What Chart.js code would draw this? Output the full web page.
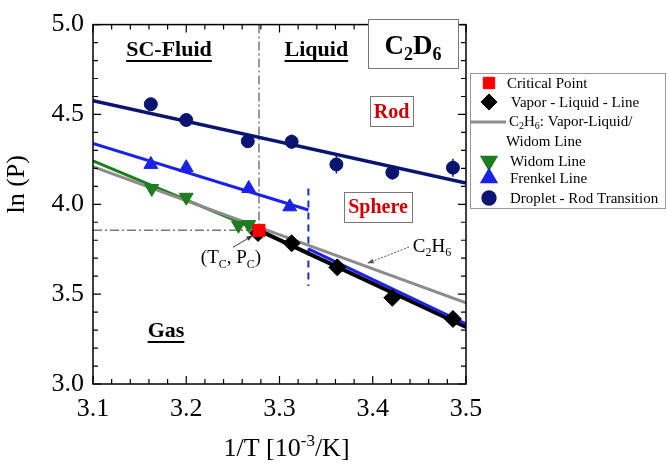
<!DOCTYPE html>
<html>
<head>
<meta charset="utf-8">
<script src="https://cdn.jsdelivr.net/npm/chart.js@4.4.0/dist/chart.umd.min.js"></script>
<style>body{margin:0;background:#fff}</style>
</head>
<body>
<canvas id="grafico" width="667" height="465"></canvas>
<script>
// pontos
const criticalX = [3.278];
const criticalY = [3.855];
const vaporX = [3.277, 3.313, 3.362, 3.421, 3.486];
const vaporY = [3.840, 3.783, 3.649, 3.480, 3.362];
const widomX = [3.163, 3.200, 3.256, 3.267];
const widomY = [4.088, 4.039, 3.883, 3.887];
const frenkelX = [3.162, 3.200, 3.267, 3.311];
const frenkelY = [4.222, 4.204, 4.088, 3.986];
const dropletX = [3.162, 3.200, 3.266, 3.313, 3.361, 3.421, 3.486];
const dropletY = [4.557, 4.469, 4.351, 4.348, 4.222, 4.177, 4.204];
const dropletErr = [0.02, 0.02, 0.03, 0.04, 0.05, 0.04, 0.05];

// retas ajustadas (extremos)
const dropletFitX = [3.1, 3.5];
const dropletFitY = [4.577, 4.118];
const frenkelFitX = [3.1, 3.331];
const frenkelFitY = [4.339, 3.968];
const frenkelLowX = [3.331, 3.5];
const frenkelLowY = [3.752, 3.335];
const widomFitX = [3.1, 3.278];
const widomFitY = [4.242, 3.855];
const vaporFitX = [3.278, 3.5];
const vaporFitY = [3.855, 3.317];
const c2h6X = [3.1, 3.5];
const c2h6Y = [4.210, 3.452];
const sphereBoundX = [3.331, 3.331];
const sphereBoundY = [4.088, 3.545];
const critVertX = [3.278, 3.278];
const critVertY = [5.0, 3.855];
const critHorzX = [3.1, 3.278];
const critHorzY = [3.855, 3.855];

const xTicks = [3.1, 3.2, 3.3, 3.4, 3.5];
const yTicks = [3.0, 3.5, 4.0, 4.5, 5.0];

const SERIF = '"Liberation Serif", "Times New Roman", serif';

function pts(xs, ys) {
    return xs.map((x, i) => ({ x: x, y: ys[i] }));
}

function linha(xs, ys, cor, larg, dash) {
    return {
        data: pts(xs, ys),
        showLine: true,
        borderColor: cor,
        borderWidth: larg,
        borderDash: dash || [],
        pointRadius: 0,
        fill: false
    };
}

function marcador(xs, ys, cor, estilo, raio, rot) {
    return {
        data: pts(xs, ys),
        showLine: false,
        pointStyle: estilo,
        pointRadius: raio,
        pointRotation: rot || 0,
        backgroundColor: cor,
        borderColor: cor,
        borderWidth: 1
    };
}

// texto com sub/sobrescrito: partes [texto, tipo]
function textoRico(ctx, partes, x, y, tam, peso, cor, alinhar) {
    const medidas = partes.map(p => {
        const t = p[1] ? Math.round(tam * 0.65) : tam;
        ctx.font = peso + ' ' + t + 'px ' + SERIF;
        return ctx.measureText(p[0]).width;
    });
    const total = medidas.reduce((a, b) => a + b, 0);
    let cx = x;
    if (alinhar === 'center') cx = x - total / 2;
    ctx.fillStyle = cor;
    ctx.textBaseline = 'alphabetic';
    ctx.textAlign = 'left';
    partes.forEach((p, i) => {
        const t = p[1] ? Math.round(tam * 0.65) : tam;
        ctx.font = peso + ' ' + t + 'px ' + SERIF;
        let dy = 0;
        if (p[1] === 'sub') dy = tam * 0.22;
        if (p[1] === 'sup') dy = -tam * 0.38;
        ctx.fillText(p[0], cx, y + dy);
        cx += medidas[i];
    });
    return total;
}

function seta(ctx, x1, y1, x2, y2, cor, dash) {
    const ang = Math.atan2(y2 - y1, x2 - x1);
    ctx.strokeStyle = cor;
    ctx.fillStyle = cor;
    ctx.lineWidth = 1;
    ctx.setLineDash(dash || []);
    ctx.beginPath();
    ctx.moveTo(x1, y1);
    ctx.lineTo(x2, y2);
    ctx.stroke();
    ctx.setLineDash([]);
    ctx.beginPath();
    ctx.moveTo(x2, y2);
    ctx.lineTo(x2 - 7 * Math.cos(ang - 0.35), y2 - 7 * Math.sin(ang - 0.35));
    ctx.lineTo(x2 - 7 * Math.cos(ang + 0.35), y2 - 7 * Math.sin(ang + 0.35));
    ctx.closePath();
    ctx.fill();
}

// barras de erro dos pontos Droplet - Rod
const barrasErro = {
    id: 'barrasErro',
    beforeDatasetsDraw(chart) {
        const ctx = chart.ctx;
        const sx = chart.scales.x, sy = chart.scales.y;
        ctx.save();
        ctx.strokeStyle = '#0b1470';
        ctx.lineWidth = 1.5;
        ctx.beginPath();
        dropletX.forEach((x, i) => {
            const px = sx.getPixelForValue(x);
            ctx.moveTo(px, sy.getPixelForValue(dropletY[i] + dropletErr[i]));
            ctx.lineTo(px, sy.getPixelForValue(dropletY[i] - dropletErr[i]));
        });
        ctx.stroke();
        ctx.restore();
    }
};

const moldura = {
    id: 'moldura',
    afterDraw(chart) {
        const ctx = chart.ctx;
        const a = chart.chartArea;
        const sx = chart.scales.x, sy = chart.scales.y;
        ctx.save();
        ctx.strokeStyle = '#000';
        ctx.lineWidth = 1.5;
        ctx.strokeRect(a.left, a.top, a.right - a.left, a.bottom - a.top);
        ctx.lineWidth = 1.2;
        ctx.beginPath();
        for (let i = 0; i <= 20; i++) {
            const v = 3.1 + i * 0.02;
            const px = sx.getPixelForValue(v);
            const len = i % 5 === 0 ? 8 : 5;
            ctx.moveTo(px, a.bottom); ctx.lineTo(px, a.bottom - len);
            ctx.moveTo(px, a.top); ctx.lineTo(px, a.top + len);
        }
        for (let i = 0; i <= 20; i++) {
            const v = 3.0 + i * 0.1;
            const py = sy.getPixelForValue(v);
            const len = i % 5 === 0 ? 8 : 5;
            ctx.moveTo(a.left, py); ctx.lineTo(a.left + len, py);
            ctx.moveTo(a.right, py); ctx.lineTo(a.right - len, py);
        }
        ctx.stroke();

        // titulos dos eixos
        ctx.save();
        ctx.translate(24, (a.top + a.bottom) / 2 - 20);
        ctx.rotate(-Math.PI / 2);
        textoRico(ctx, [['ln (P)']], 0, 0, 26, 'normal', '#000', 'center');
        ctx.restore();
        textoRico(ctx, [['1/T [10'], ['-3', 'sup'], ['/K]']], (a.left + a.right) / 2 + 7, 456, 26, 'normal', '#000', 'center');

        // rotulos das regioes
        const rot = (txt, x, y) => {
            const w = textoRico(ctx, [[txt]], x, y, 22, 'bold', '#000', 'center');
            ctx.fillStyle = '#000';
            ctx.fillRect(x - w / 2, y + 4, w, 2);
        };
        rot('SC-Fluid', sx.getPixelForValue(3.1 + 0.0815), 56);
        rot('Liquid', sx.getPixelForValue(3.1 + 0.2395), 56);
        rot('Gas', sx.getPixelForValue(3.1 + 0.0783), 337);

        const caixa = (x0, y0, x1, y1) => {
            ctx.fillStyle = '#fff';
            ctx.fillRect(x0, y0, x1 - x0, y1 - y0);
            ctx.strokeStyle = '#777';
            ctx.lineWidth = 1;
            ctx.strokeRect(x0 + 0.5, y0 + 0.5, x1 - x0, y1 - y0);
        };
        caixa(368, 19, 458, 68);
        textoRico(ctx, [['C'], ['2', 'sub'], ['D'], ['6', 'sub']], 413, 54, 27, 'bold', '#000', 'center');
        caixa(370, 96, 413, 126);
        textoRico(ctx, [['Rod']], 391.5, 118, 20, 'bold', '#d40000', 'center');
        caixa(344, 192, 412, 222);
        textoRico(ctx, [['Sphere']], 378, 213, 20, 'bold', '#d40000', 'center');

        // ponto critico
        const cx = sx.getPixelForValue(criticalX[0]), cy = sy.getPixelForValue(criticalY[0]);
        textoRico(ctx, [['(T'], ['C', 'sub'], [', P'], ['C', 'sub'], [')']], cx - 28, cy + 33, 19, 'normal', '#000', 'center');
        seta(ctx, cx - 26, cy + 17, cx - 6, cy + 5, '#333');
        // C2H6
        const gx = sx.getPixelForValue(3.393), gy = sy.getPixelForValue(c2h6Y[0] + (3.393 - c2h6X[0]) * (c2h6Y[1] - c2h6Y[0]) / (c2h6X[1] - c2h6X[0]));
        textoRico(ctx, [['C'], ['2', 'sub'], ['H'], ['6', 'sub']], 432, 252, 19, 'normal', '#000', 'center');
        seta(ctx, 409, 247, gx + 1, gy - 3, '#555', [2, 1.5]);

        // legenda
        ctx.fillStyle = '#fff';
        ctx.fillRect(470, 73, 195, 135);
        ctx.strokeStyle = '#999';
        ctx.lineWidth = 1;
        ctx.strokeRect(470.5, 73.5, 195, 135);
        const ds = chart.data.datasets;
        const simbolo = (d, x, y) => {
            ctx.fillStyle = d.backgroundColor;
            ctx.strokeStyle = d.borderColor;
            Chart.helpers.drawPoint(ctx, {
                pointStyle: d.pointStyle, radius: d.pointRadius * 0.95,
                rotation: d.pointRotation, borderWidth: 1
            }, x, y);
        };
        [[ds[0], 83, 'Critical Point', 507], [ds[1], 102, ' Vapor - Liquid - Line', 507]].forEach(it => {
            simbolo(it[0], 489, it[1]);
            textoRico(ctx, [[it[2]]], it[3], it[1] + 5, 15, 'normal', '#000', 'left');
        });
        ctx.strokeStyle = '#8c8c8c';
        ctx.lineWidth = 3;
        ctx.beginPath(); ctx.moveTo(470, 122); ctx.lineTo(506, 122); ctx.stroke();
        textoRico(ctx, [['C'], ['2', 'sub'], ['H'], ['6', 'sub'], [': Vapor-Liquid/']], 509, 126, 15, 'normal', '#000', 'left');
        textoRico(ctx, [['Widom Line']], 506, 146, 15, 'normal', '#000', 'left');
        [[ds[2], 161, 'Widom Line'], [ds[3], 178, 'Frenkel Line'], [ds[4], 198, 'Droplet - Rod Transition']].forEach(it => {
            simbolo(it[0], 489, it[1]);
            textoRico(ctx, [[it[2]]], 510, it[1] + 5, 15, 'normal', '#000', 'left');
        });
        ctx.restore();
    }
};

new Chart(document.getElementById('grafico'), {
    type: 'scatter',
    data: {
        datasets: [
            marcador(criticalX, criticalY, '#ff0000', 'rect', 8.5),
            marcador(vaporX, vaporY, '#000000', 'rectRot', 8.5),
            marcador(widomX, widomY, '#1e7d1e', 'triangle', 8, 180),
            marcador(frenkelX, frenkelY, '#1a22e8', 'triangle', 8),
            marcador(dropletX, dropletY, '#0b1470', 'circle', 6.5),
            linha(frenkelLowX, frenkelLowY, '#1a22e8', 3),
            linha(vaporFitX, vaporFitY, '#000000', 4),
            linha(c2h6X, c2h6Y, '#8c8c8c', 3),
            linha(widomFitX, widomFitY, '#1e7d1e', 3),
            linha(frenkelFitX, frenkelFitY, '#1a22e8', 3),
            linha(dropletFitX, dropletFitY, '#0b1470', 3.5),
            linha(sphereBoundX, sphereBoundY, '#1a2ad0', 2, [7, 5]),
            linha(critVertX, critVertY, '#777777', 1.5, [9, 3, 2, 3]),
            linha(critHorzX, critHorzY, '#777777', 1.5, [9, 3, 2, 3])
        ]
    },
    options: {
        responsive: false,
        animation: false,
        devicePixelRatio: 1,
        layout: { padding: { left: 0, right: 201, top: 12, bottom: 0 } },
        plugins: {
            legend: { display: false },
            tooltip: { enabled: false }
        },
        scales: {
            x: {
                type: 'linear',
                min: 3.1,
                max: 3.5,
                afterBuildTicks: (s) => { s.ticks = xTicks.map(v => ({ value: v })); },
                afterFit: (s) => { s.height = 81; },
                grid: { display: false, drawTicks: false },
                border: { display: false },
                ticks: {
                    padding: 10,
                    color: '#000',
                    font: { family: SERIF, size: 26 },
                    callback: (v) => Number(v).toFixed(1)
                }
            },
            y: {
                type: 'linear',
                min: 3.0,
                max: 5.0,
                afterBuildTicks: (s) => { s.ticks = yTicks.map(v => ({ value: v })); },
                afterFit: (s) => { s.width = 93; },
                grid: { display: false, drawTicks: false },
                border: { display: false },
                ticks: {
                    padding: 9,
                    color: '#000',
                    font: { family: SERIF, size: 26 },
                    callback: (v) => Number(v).toFixed(1)
                }
            }
        }
    },
    plugins: [barrasErro, moldura]
});
</script>
</body>
</html>
